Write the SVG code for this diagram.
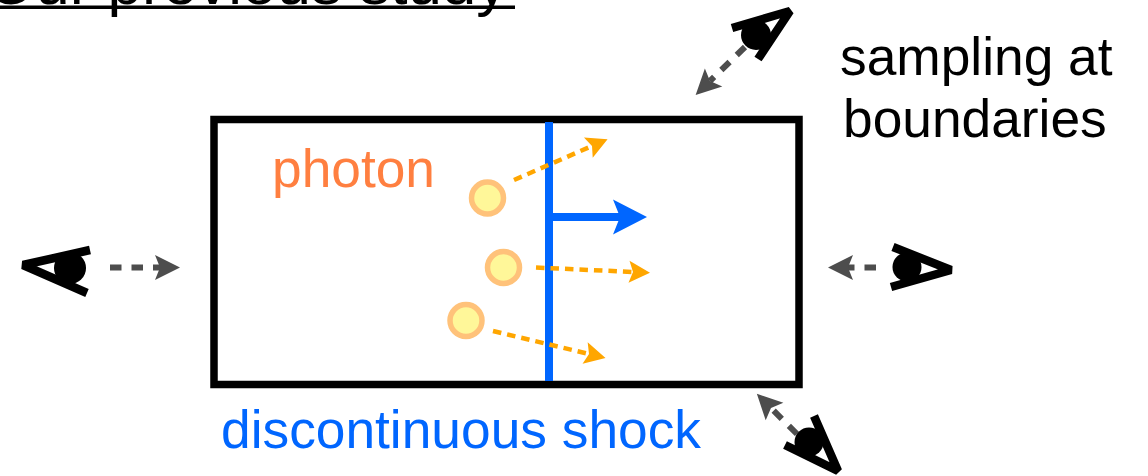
<svg xmlns="http://www.w3.org/2000/svg" width="1148" height="476" viewBox="0 0 1148 476">
<style>
text{font-family:"Liberation Sans",Arial,sans-serif;font-size:53.3px;fill:#000}
.eye{fill:none;stroke:#000;stroke-width:8.500;stroke-linejoin:bevel}
.pupil{fill:#000}
.photon{fill:#fff799;stroke:#ffc27a;stroke-width:5.5}
.g{fill:none;stroke:#4d4d4d;stroke-width:6;stroke-dasharray:11.5 10;marker-end:url(#mg)}
.o{fill:none;stroke:#ffa600;stroke-width:4.5;stroke-dasharray:8.5 6;marker-end:url(#mo)}
</style>
<defs>
<marker id="mg" markerUnits="userSpaceOnUse" markerWidth="30" markerHeight="30" refX="5" refY="15" orient="auto" overflow="visible"><path d="M0 2.500L25 15L0 27.500L5 15Z" fill="#4d4d4d"/></marker>
<marker id="mo" markerUnits="userSpaceOnUse" markerWidth="24" markerHeight="24" refX="4" refY="12" orient="auto" overflow="visible"><path d="M0 1L21 12L0 23L4 12Z" fill="#ffa600"/></marker>
<marker id="mb" markerUnits="userSpaceOnUse" markerWidth="36" markerHeight="36" refX="7" refY="18" orient="auto" overflow="visible"><path d="M0 .5L34 18L0 35.500L7 18Z" fill="#0066ff"/></marker>
</defs>
<rect width="1148" height="476" fill="#fff"/>
<g id="title"><text x="-13" y="4" style="font-size:62px">Our previous study</text><rect x="0" y="5.500" width="515" height="3.500"/></g>
<g id="domain"><rect x="214" y="119.500" width="585" height="265" fill="none" stroke="#000" stroke-width="7.500"/></g>
<g id="shock"><rect x="545" y="122" width="8" height="259" fill="#0066ff"/></g>
<g id="photon-1"><circle class="photon" cx="487.500" cy="198" r="16"/></g>
<g id="photon-2"><circle class="photon" cx="503.500" cy="267.500" r="16"/></g>
<g id="photon-3"><circle class="photon" cx="466" cy="320.500" r="16"/></g>
<g id="connectors">
<line x1="553" y1="217" x2="620" y2="217" stroke="#0066ff" stroke-width="8" marker-end="url(#mb)"/>
<line class="o" x1="514" y1="180" x2="592" y2="146"/>
<line class="o" x1="536" y1="267.500" x2="633" y2="272"/>
<line class="o" x1="493" y1="331" x2="589" y2="354"/>
<line class="g" x1="110" y1="267.500" x2="160" y2="267.500"/>
<line class="g" x1="876" y1="267.500" x2="848" y2="267.500"/>
<line class="g" x1="745" y1="47" x2="710" y2="81"/>
<line class="g" x1="797" y1="434" x2="771" y2="408"/>
</g>
<g id="eye-left"><polyline class="eye" points="90,250 23,265 87,293"/><circle class="pupil" cx="70" cy="268" r="16"/></g>
<g id="eye-right"><polyline class="eye" points="893,247 951,270 891,287"/><circle class="pupil" cx="907" cy="267" r="14.500"/></g>
<g id="eye-top"><polyline class="eye" points="732,28 790,11 758,59"/><circle class="pupil" cx="756" cy="35" r="15"/></g>
<g id="eye-bottom"><polyline class="eye" points="785,445 838,471 814,416"/><circle class="pupil" cx="809" cy="442" r="14.500"/></g>
<g id="labels">
<text x="840" y="75">sampling at</text>
<text x="843" y="137">boundaries</text>
<text x="272" y="187" style="fill:#ff7f40">photon</text>
<text x="221" y="448" style="fill:#0066ff">discontinuous shock</text>
</g>
</svg>
